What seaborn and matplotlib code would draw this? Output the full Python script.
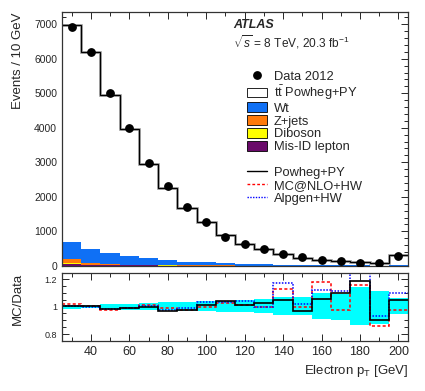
import numpy as np
import pandas as pd
import seaborn as sns
import matplotlib
matplotlib.use("Agg")
import matplotlib.pyplot as plt
from matplotlib.ticker import MultipleLocator, FuncFormatter
from matplotlib.patches import Patch
from matplotlib.lines import Line2D

# electron pT bins, 10 GeV wide, 25 - 205 GeV (last bin includes overflow)
edges = np.arange(25, 206, 10)
centers = edges[:-1] + 5

data = [6920, 6190, 5020, 3980, 2970, 2320, 1710, 1260, 850, 635,
        480, 330, 250, 170, 140, 95, 95, 290]
ttbar = [6288, 5712, 4580, 3654, 2743, 2079, 1547, 1170, 806, 583,
         448, 311, 214, 157, 136, 99, 75, 283]
wt = [490, 410, 315, 262, 192, 151, 107, 90, 65, 48,
      38, 29, 23, 17, 14, 11, 9, 15]
zjets = [115, 42, 22, 15, 12, 10, 8, 6, 5, 4, 3, 3, 2, 2, 1, 1, 1, 2]
diboson = [20, 10, 8, 6, 5, 4, 3, 3, 2, 2, 1, 1, 1, 1, 1, 1, 0, 1]
misid = [55, 28, 20, 15, 12, 9, 7, 6, 5, 4, 3, 3, 2, 2, 2, 1, 1, 2]

# MC/Data ratios for the alternative generators
ratio_mcnlo = [1.019, 1.002, 0.976, 0.993, 1.015, 0.988, 0.978, 0.995, 1.029, 1.010,
               0.995, 1.126, 0.995, 1.180, 0.973, 1.160, 0.862, 0.973]
ratio_alpgen = [1.002, 1.000, 0.980, 0.993, 1.002, 0.978, 0.988, 1.036, 1.036, 1.039,
                0.995, 1.170, 1.019, 1.124, 1.116, 1.270, 0.935, 1.097]
# uncertainty band in the ratio panel
band_up = [1.015, 1.010, 1.022, 1.022, 1.024, 1.030, 1.036, 1.039, 1.044, 1.050,
           1.058, 1.073, 1.073, 1.097, 1.092, 1.140, 1.111, 1.063]
band_dn = [0.985, 0.990, 0.980, 0.978, 0.973, 0.973, 0.971, 0.966, 0.960, 0.960,
           0.950, 0.942, 0.937, 0.913, 0.900, 0.864, 0.874, 0.947]

procs = ["ttbar", "Wt", "Z+jets", "Diboson", "Mis-ID"]
colors = {"ttbar": "white", "Wt": "#0f70f5", "Z+jets": "#ff7a0a",
          "Diboson": "#ffff00", "Mis-ID": "#6a0a6a"}
vals = {"ttbar": ttbar, "Wt": wt, "Z+jets": zjets, "Diboson": diboson, "Mis-ID": misid}

frames = []
for p in procs:
    frames.append(pd.DataFrame({"pt": centers, "w": vals[p], "process": p}))
df = pd.concat(frames, ignore_index=True)

sns.set_style("ticks")
plt.rcParams["font.family"] = ["Liberation Sans", "DejaVu Sans"]
plt.rcParams["mathtext.fontset"] = "custom"
plt.rcParams["mathtext.rm"] = "Liberation Sans"
plt.rcParams["mathtext.it"] = "Liberation Sans:italic"

fig = plt.figure(figsize=(4.25, 3.91), dpi=100)
ax = fig.add_axes([0.146, 0.320, 0.814, 0.649])
rax = fig.add_axes([0.146, 0.128, 0.814, 0.174], sharex=ax)

sns.histplot(data=df, x="pt", weights="w", hue="process", hue_order=procs,
             multiple="stack", bins=list(edges), palette=colors, alpha=1,
             linewidth=0, legend=False, ax=ax)

total = np.array(ttbar) + np.array(wt) + np.array(zjets) + np.array(diboson) + np.array(misid)
ax.stairs(total, edges, color="#a8a8a8", lw=2.0, baseline=None)
ax.stairs(total, edges, color="black", lw=0.9, baseline=None)
ax.errorbar(centers, data, yerr=np.sqrt(data), fmt="o", color="black",
            ms=5.3, elinewidth=1, capsize=0, zorder=5)

ax.set_xlim(25, 205)
ax.set_ylim(0, 7350)
ax.set_xlabel("")
ax.set_ylabel("Events / 10 GeV", fontsize=9.5, loc="top")
ax.yaxis.set_label_coords(-0.11, 1.0)
ax.yaxis.set_major_locator(MultipleLocator(1000))
ax.yaxis.set_minor_locator(MultipleLocator(200))

ax.text(0.494, 0.950, "ATLAS", transform=ax.transAxes, fontsize=9,
        fontweight="bold", fontstyle="italic", va="center")
ax.text(0.494, 0.880, r"$\sqrt{s}$ = 8 TeV, 20.3 fb$^{-1}$", transform=ax.transAxes,
        fontsize=8.6, va="center")

handles = [Line2D([], [], marker="o", color="black", ls="none", ms=5.3)]
labels = ["Data 2012"]
names = {"ttbar": r"t$\bar{\rm t}$ Powheg+PY", "Wt": "Wt", "Z+jets": "Z+jets",
         "Diboson": "Diboson", "Mis-ID": "Mis-ID lepton"}
for p in procs:
    handles.append(Patch(facecolor=colors[p], edgecolor="black", lw=0.6))
    labels.append(names[p])
handles.append(Line2D([], [], color="none"))
labels.append(" ")
handles += [Line2D([], [], color="black", lw=1),
            Line2D([], [], color="red", lw=1, ls=(0, (2, 1.5))),
            Line2D([], [], color="blue", lw=1, ls=(0, (1, 1)))]
labels += ["Powheg+PY", "MC@NLO+HW", "Alpgen+HW"]
ax.legend(handles, labels, loc="upper left", bbox_to_anchor=(0.535, 0.77),
          frameon=False, fontsize=9.3, handlelength=1.55, handleheight=0.75,
          handletextpad=0.5, labelspacing=0.05, borderpad=0, borderaxespad=0)

# ratio panel
ratio_pw = total / np.array(data)
rax.stairs(band_up, edges, baseline=band_dn, fill=True, color="#00ffff", lw=0)
rax.stairs(ratio_mcnlo, edges, baseline=None, color="red", lw=1.1, ls=(0, (2, 1.5)))
rax.stairs(ratio_alpgen, edges, baseline=None, color="blue", lw=1.1, ls=(0, (1, 1)))
rax.stairs(ratio_pw, edges, baseline=None, color="black", lw=1.2)
rax.set_ylim(0.75, 1.245)
rax.yaxis.set_major_locator(MultipleLocator(0.2))
rax.yaxis.set_minor_locator(MultipleLocator(0.05))
rax.yaxis.set_major_formatter(FuncFormatter(lambda v, pos: f"{v:g}"))
rax.set_ylabel("MC/Data", fontsize=9.5, loc="top")
rax.yaxis.set_label_coords(-0.11, 1.0)
rax.set_xlabel(r"Electron p$_{\rm T}$ [GeV]", fontsize=9.5, loc="right")
rax.xaxis.set_major_locator(MultipleLocator(20))
rax.xaxis.set_minor_locator(MultipleLocator(10))

for a in (ax, rax):
    a.tick_params(which="both", direction="in", top=True, right=True)
    a.tick_params(which="major", length=5, width=0.7)
    a.tick_params(which="minor", length=2.8, width=0.7)
    for s in a.spines.values():
        s.set_linewidth(0.9)
        s.set_color("#333333")
ax.tick_params(axis="y", labelsize=7.5)
ax.tick_params(axis="x", labelbottom=False)
rax.tick_params(axis="y", labelsize=6.5)
rax.tick_params(axis="x", labelsize=9)

fig.savefig("out.png", dpi=100)
